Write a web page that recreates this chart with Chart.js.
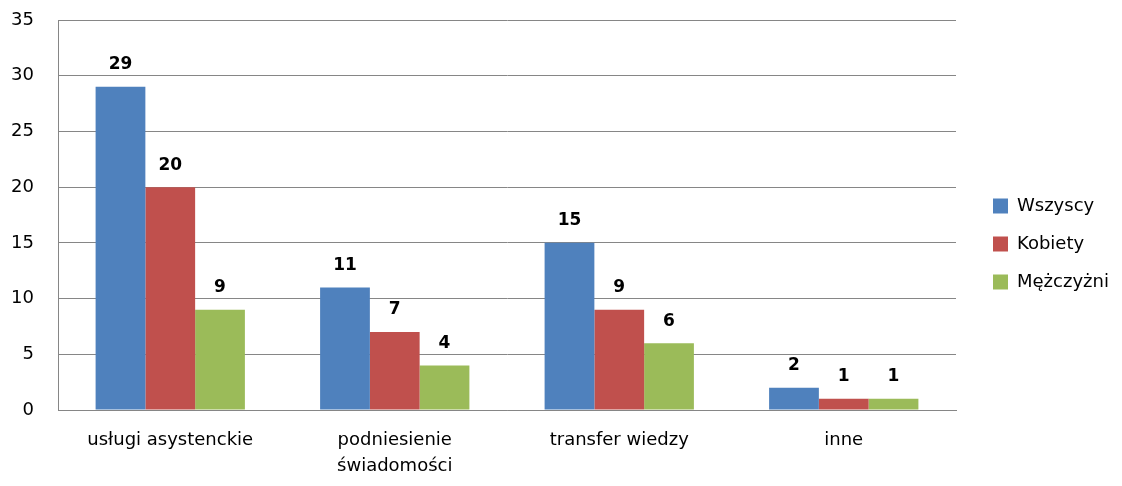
<!DOCTYPE html>
<html><head><meta charset="utf-8">
<script src="https://cdn.jsdelivr.net/npm/chart.js@4.4.1/dist/chart.umd.min.js"></script>
<style>html,body{margin:0;padding:0;background:#fff}#wrap{width:1122px;height:486px}</style>
</head><body><div id="wrap"><canvas id="c" width="1122" height="486"></canvas></div>
<script>
const categories = ["usługi asystenckie", ["podniesienie","świadomości"], "transfer wiedzy", "inne"];
const wszyscy = [29, 11, 15, 2];
const kobiety = [20, 7, 9, 1];
const mezczyzni = [9, 4, 6, 1];
const seriesNames = ["Wszyscy", "Kobiety", "Mężczyżni"];
const yTicks = [0, 5, 10, 15, 20, 25, 30, 35];

const FONT = "'DejaVu Sans', sans-serif";
const valueLabels = {
  id: 'valueLabels',
  afterDatasetsDraw(chart) {
    const ctx = chart.ctx;
    ctx.save();
    ctx.font = "bold 17px " + FONT;
    ctx.fillStyle = '#000';
    ctx.textAlign = 'center';
    ctx.textBaseline = 'middle';
    chart.data.datasets.forEach((ds, i) => {
      chart.getDatasetMeta(i).data.forEach((bar, j) => {
        ctx.fillText(String(ds.data[j]), bar.x, bar.y - 22);
      });
    });
    ctx.restore();
  }
};
const legendPlace = {
  id: 'legendPlace',
  afterInit(chart) {
    const lg = chart.legend;
    if (lg && !lg._patched) {
      const orig = lg.fit;
      lg.fit = function() { orig.call(this); this.width = 166; };
      lg._patched = true;
    }
  },
  afterLayout(chart) {
    const lg = chart.legend;
    if (lg) { lg.left += 17; lg.right += 17; lg.top -= 9; lg.bottom -= 9; }
  }
};

new Chart(document.getElementById('c'), {
  type: 'bar',
  data: {
    labels: categories,
    datasets: [
      {label: seriesNames[0], data: wszyscy, backgroundColor: '#4F81BD'},
      {label: seriesNames[1], data: kobiety, backgroundColor: '#C0504D'},
      {label: seriesNames[2], data: mezczyzni, backgroundColor: '#9BBB59'}
    ]
  },
  options: {
    responsive: false,
    animation: false,
    devicePixelRatio: 1,
    layout: {padding: {top: 20, right: 0, left: 0, bottom: 0}},
    datasets: {bar: {categoryPercentage: 0.665, barPercentage: 1.0}},
    plugins: {
      legend: {
        position: 'right',
        align: 'center',
        labels: {
          boxWidth: 15, boxHeight: 15, padding: 20,
          color: '#000', font: {family: FONT, size: 18}
        }
      },
      tooltip: {enabled: false}
    },
    scales: {
      x: {
        afterFit(axis) { axis.height = 76; axis.paddingLeft = 0; axis.paddingRight = 0; },
        grid: {display: false, drawTicks: false},
        border: {display: true, color: '#868686', width: 1},
        ticks: {color: '#000', font: {family: FONT, size: 18, lineHeight: 1.42}, padding: 18, maxRotation: 0}
      },
      y: {
        min: 0, max: 35,
        afterBuildTicks(axis) { axis.ticks = yTicks.map(v => ({value: v})); },
        afterFit(axis) { axis.width = 58; axis.paddingTop = 0; axis.paddingBottom = 0; },
        grid: {color: '#868686', drawTicks: false},
        border: {display: true, color: '#868686', width: 1},
        ticks: {color: '#000', font: {family: FONT, size: 18}, padding: 24}
      }
    }
  },
  plugins: [valueLabels, legendPlace]
});
</script></body></html>
